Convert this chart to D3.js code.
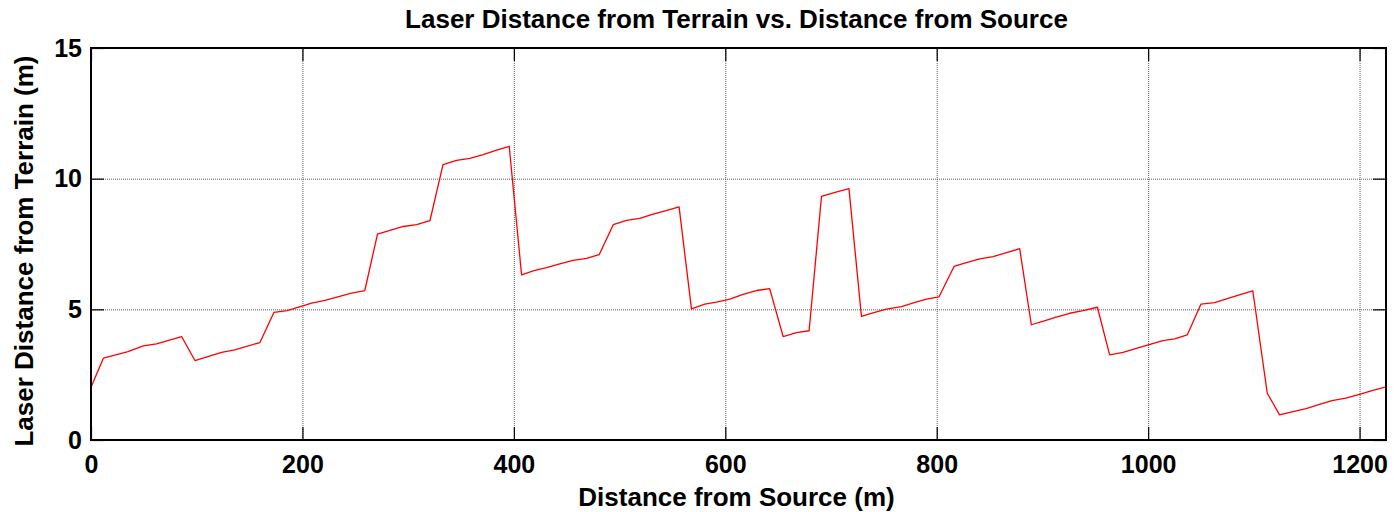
<!DOCTYPE html>
<html>
<head>
<meta charset="utf-8">
<script src="https://cdn.jsdelivr.net/npm/d3@7"></script>
<style>
  html, body { margin: 0; padding: 0; background: #fff; }
  svg { display: block; }
  text { font-family: "Liberation Sans", Arial, sans-serif; font-weight: bold; fill: #000; }
</style>
</head>
<body>
<svg id="chart" width="1394" height="512"></svg>
<script>
// Distance along the path (m) and laser height above terrain (m)
const distance = [
  0, 11.7, 35, 49.5, 62, 85.7, 98.3, 123.5, 136, 159.8,
  173, 185.6, 208.7, 221.3, 246.5, 259, 271, 295.3, 308, 320.6,
  333, 345.8, 358.4, 371, 383, 395.6, 407.3, 419, 430.9, 443.5,
  456, 468.7, 480.7, 494, 506.6, 519, 531, 544, 556.3, 568,
  580.6, 591.7, 604.3, 616.8, 629.5, 642, 654.7, 667.3, 679.3, 691,
  703, 717, 728.8, 740.6, 752.4, 766.6, 778, 790.2, 802.2, 816.4,
  828, 840.7, 853.3, 866, 878.5, 889.5, 901, 913, 925.8, 938.4,
  952, 963.6, 976.2, 988.8, 1001, 1014, 1025, 1037, 1050, 1062.9,
  1075, 1087, 1099, 1112.7, 1124.3, 1137, 1149.5, 1162, 1174, 1186.8,
  1199, 1211, 1224
];
const laserHeight = [
  2.02, 3.13, 3.38, 3.60, 3.68, 3.96, 3.04, 3.35, 3.45, 3.73,
  4.88, 4.95, 5.24, 5.34, 5.62, 5.72, 7.88, 8.17, 8.24, 8.39,
  10.54, 10.70, 10.78, 10.92, 11.08, 11.24, 6.32, 6.48, 6.60, 6.74,
  6.87, 6.95, 7.09, 8.24, 8.40, 8.48, 8.63, 8.78, 8.92, 5.02,
  5.20, 5.28, 5.39, 5.57, 5.72, 5.79, 3.96, 4.11, 4.18, 9.32,
  9.47, 9.62, 4.73, 4.87, 5.01, 5.10, 5.25, 5.39, 5.48, 6.64,
  6.79, 6.93, 7.02, 7.17, 7.32, 4.41, 4.55, 4.70, 4.85, 4.95,
  5.08, 3.26, 3.35, 3.51, 3.65, 3.80, 3.87, 4.02, 5.20, 5.26,
  5.41, 5.56, 5.71, 1.79, 0.96, 1.09, 1.20, 1.36, 1.51, 1.60,
  1.74, 1.88, 2.02
];
const xTicks = [0, 200, 400, 600, 800, 1000, 1200];
const yTicks = [0, 5, 10, 15];
const xGrid = [200, 400, 600, 800, 1000, 1200];
const yGrid = [5, 10];

const titleText = "Laser Distance from Terrain vs. Distance from Source";
const xLabelText = "Distance from Source (m)";
const yLabelText = "Laser Distance from Terrain (m)";

const plotLeft = 91, plotRight = 1386, plotTop = 48, plotBottom = 440;
const W = plotRight - plotLeft, H = plotBottom - plotTop;

const svg = d3.select("#chart");
svg.append("rect").attr("width", 1394).attr("height", 512).attr("fill", "#fff");

const x = d3.scaleLinear().domain([0, 1225]).range([0, W]);
const y = d3.scaleLinear().domain([0, 15]).range([H, 0]);
const fmt = d3.format("d");

const g = svg.append("g").attr("transform", `translate(${plotLeft},${plotTop})`);

// dotted grid
const gx = g.append("g").attr("transform", `translate(0,${H})`)
  .call(d3.axisBottom(x).tickValues(xGrid).tickSize(-H).tickFormat(""));
const gy = g.append("g")
  .call(d3.axisLeft(y).tickValues(yGrid).tickSize(-W).tickFormat(""));
[gx, gy].forEach(s => {
  s.select(".domain").remove();
  s.selectAll("line").attr("stroke", "#333").attr("stroke-width", 1)
    .attr("stroke-dasharray", "1,1").attr("opacity", 0.8);
});

// data line
const line = d3.line().x((d, i) => x(distance[i])).y(d => y(d));
g.append("path").datum(laserHeight)
  .attr("fill", "none").attr("stroke", "#ff0000").attr("stroke-width", 1.3)
  .attr("stroke-linejoin", "round")
  .attr("d", line);

// axes with inward ticks
const tickLen = 13;
const axB = g.append("g").attr("transform", `translate(0,${H})`)
  .call(d3.axisBottom(x).tickValues(xTicks).tickFormat(fmt).tickSizeInner(-tickLen).tickSizeOuter(0).tickPadding(15));
const axT = g.append("g")
  .call(d3.axisTop(x).tickValues(xTicks).tickSizeInner(-tickLen).tickSizeOuter(0).tickFormat(""));
const axL = g.append("g")
  .call(d3.axisLeft(y).tickValues(yTicks).tickFormat(fmt).tickSizeInner(-tickLen).tickSizeOuter(0).tickPadding(9));
const axR = g.append("g").attr("transform", `translate(${W},0)`)
  .call(d3.axisRight(y).tickValues(yTicks).tickSizeInner(-tickLen).tickSizeOuter(0).tickFormat(""));
[axB, axT, axL, axR].forEach(s => {
  s.select(".domain").remove();
  s.selectAll("line").attr("stroke", "#000").attr("stroke-width", 1.2);
  s.selectAll("text").attr("font-size", 25)
    .attr("font-family", "'Liberation Sans', Arial, sans-serif")
    .attr("font-weight", "bold").attr("fill", "#000");
});

// plot frame
g.append("rect").attr("x", 0).attr("y", 0).attr("width", W).attr("height", H)
  .attr("fill", "none").attr("stroke", "#000").attr("stroke-width", 2);

// titles
svg.append("text").attr("x", (plotLeft + plotRight) / 2 - 2).attr("y", 28)
  .attr("text-anchor", "middle").attr("font-size", 26).text(titleText);
svg.append("text").attr("x", (plotLeft + plotRight) / 2 - 2).attr("y", 506)
  .attr("text-anchor", "middle").attr("font-size", 26).text(xLabelText);
svg.append("text").attr("transform", "translate(33,251) rotate(-90)")
  .attr("text-anchor", "middle").attr("font-size", 26).text(yLabelText);
</script>
</body>
</html>
